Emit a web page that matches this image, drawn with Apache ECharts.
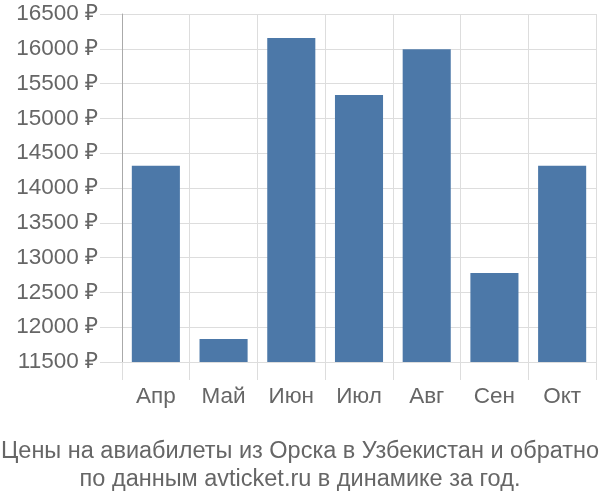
<!DOCTYPE html>
<html><head><meta charset="utf-8">
<script src="https://cdn.jsdelivr.net/npm/echarts@6/dist/echarts.min.js"></script>
<style>html,body{margin:0;padding:0;background:#fff}#c{width:600px;height:500px}</style>
</head><body><div id="c"></div>
<script>
const categories = ["Апр","Май","Июн","Июл","Авг","Сен","Окт"];
const prices = [14320, 11830, 16155, 15335, 15995, 12780, 14320];
const yMin = 11500, yMax = 16500, yStep = 500;
const titleLines = ["Цены на авиабилеты из Орска в Узбекистан и обратно","по данным avticket.ru в динамике за год."];

const chart = echarts.init(document.getElementById('c'), null, {renderer:'canvas'});
const font = 'Liberation Sans, Arial, sans-serif';
chart.setOption({
  animation:false,
  title:{text:titleLines.join('\n'), left:'center', top:433,
    textStyle:{fontFamily:font, fontSize:23.5, fontWeight:'normal', color:'#666', lineHeight:28}},
  grid:{left:122, right:4, top:14, bottom:138},
  xAxis:{type:'category', data:categories,
    axisLine:{show:true, lineStyle:{color:'#ddd'}},
    axisTick:{show:true, length:18, lineStyle:{color:'#ddd'}},
    splitLine:{show:true, lineStyle:{color:'#ddd'}},
    axisLabel:{fontFamily:font, fontSize:22.5, color:'#666', margin:23}},
  yAxis:{type:'value', min:yMin, max:yMax, interval:yStep,
    axisLine:{show:true, lineStyle:{color:'#aaa'}},
    axisTick:{show:true, length:22, lineStyle:{color:'#ddd'}},
    splitLine:{show:true, lineStyle:{color:'#ddd'}},
    axisLabel:{fontFamily:font, fontSize:22.5, color:'#666', margin:24, formatter:v=>v+' ₽'}},
  series:[{type:'bar', data:prices, barCategoryGap:'29%', itemStyle:{color:'#4c78a8'}}]
});
</script></body></html>
